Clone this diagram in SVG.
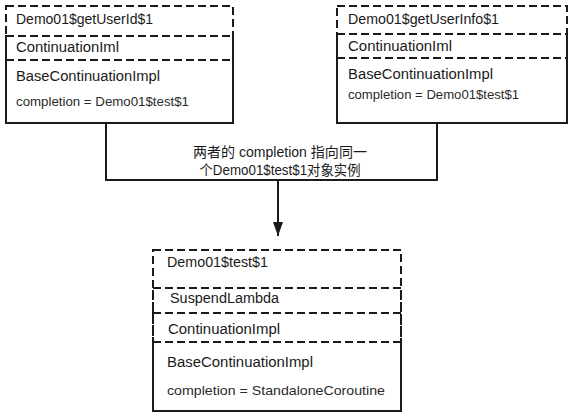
<svg xmlns="http://www.w3.org/2000/svg" width="573" height="418" viewBox="0 0 573 418">
<style>
.box{fill:none;stroke:#1a1a1a;stroke-width:2;stroke-dasharray:8 4}
.t{font-family:"Liberation Sans",Arial,sans-serif;font-size:14px;fill:#1a1a1a}
.s{font-family:"Liberation Sans",Arial,sans-serif;font-size:13.5px;fill:#2a2a2a}
.lbl{font-family:"Liberation Sans","Noto Sans CJK SC",sans-serif;font-size:14px;fill:#1a1a1a;text-anchor:middle}
.edge{fill:none;stroke:#1a1a1a;stroke-width:2}
</style>
<defs>
<marker id="arr" markerWidth="10" markerHeight="14" refX="5" refY="14" orient="0" markerUnits="userSpaceOnUse">
<path d="M0,0 L10,0 L5,14 Z" fill="#1a1a1a"/>
</marker>
</defs>
<rect width="573" height="418" fill="#ffffff"/>
<g id="node-left">
<rect class="box" x="6" y="6" width="227" height="117"/>
<rect class="box" x="6" y="36" width="227" height="87"/>
<rect class="box" x="6" y="60" width="227" height="63"/>
<text class="t" x="16" y="24" textLength="137" lengthAdjust="spacingAndGlyphs">Demo01$getUserId$1</text>
<text class="t" x="16" y="52" textLength="103" lengthAdjust="spacingAndGlyphs">ContinuationIml</text>
<text class="t" x="16" y="81" textLength="144" lengthAdjust="spacingAndGlyphs">BaseContinuationImpl</text>
<text class="s" x="16" y="106" textLength="173" lengthAdjust="spacingAndGlyphs">completion = Demo01$test$1</text>
</g>
<g id="node-right">
<rect class="box" x="337" y="6" width="230" height="117"/>
<rect class="box" x="337" y="34" width="230" height="89"/>
<rect class="box" x="337" y="58" width="230" height="65"/>
<text class="t" x="348" y="24" textLength="151" lengthAdjust="spacingAndGlyphs">Demo01$getUserInfo$1</text>
<text class="t" x="348" y="51" textLength="104" lengthAdjust="spacingAndGlyphs">ContinuationIml</text>
<text class="t" x="348" y="79" textLength="145" lengthAdjust="spacingAndGlyphs">BaseContinuationImpl</text>
<text class="s" x="348" y="99" textLength="171" lengthAdjust="spacingAndGlyphs">completion = Demo01$test$1</text>
</g>
<g id="node-bottom">
<rect class="box" x="153" y="250" width="248" height="161"/>
<rect class="box" x="153" y="288" width="248" height="123"/>
<rect class="box" x="153" y="313" width="248" height="98"/>
<rect class="box" x="153" y="342" width="248" height="69"/>
<text class="t" x="167" y="267" textLength="101" lengthAdjust="spacingAndGlyphs">Demo01$test$1</text>
<text class="t" x="170" y="303" textLength="109" lengthAdjust="spacingAndGlyphs">SuspendLambda</text>
<text class="t" x="168" y="334" textLength="112" lengthAdjust="spacingAndGlyphs">ContinuationImpl</text>
<text class="t" x="167" y="367" textLength="146" lengthAdjust="spacingAndGlyphs">BaseContinuationImpl</text>
<text class="s" x="167" y="395" textLength="218" lengthAdjust="spacingAndGlyphs">completion = StandaloneCoroutine</text>
</g>
<g id="connectors">
<path class="edge" d="M106,123 V180 H437 V123"/>
<path class="edge" d="M278,180 V236" marker-end="url(#arr)"/>
<text class="lbl" x="280" y="157" textLength="174" lengthAdjust="spacingAndGlyphs">两者的 completion 指向同一</text>
<text class="lbl" x="280" y="175" textLength="161" lengthAdjust="spacingAndGlyphs">个Demo01$test$1对象实例</text>
</g>
</svg>
